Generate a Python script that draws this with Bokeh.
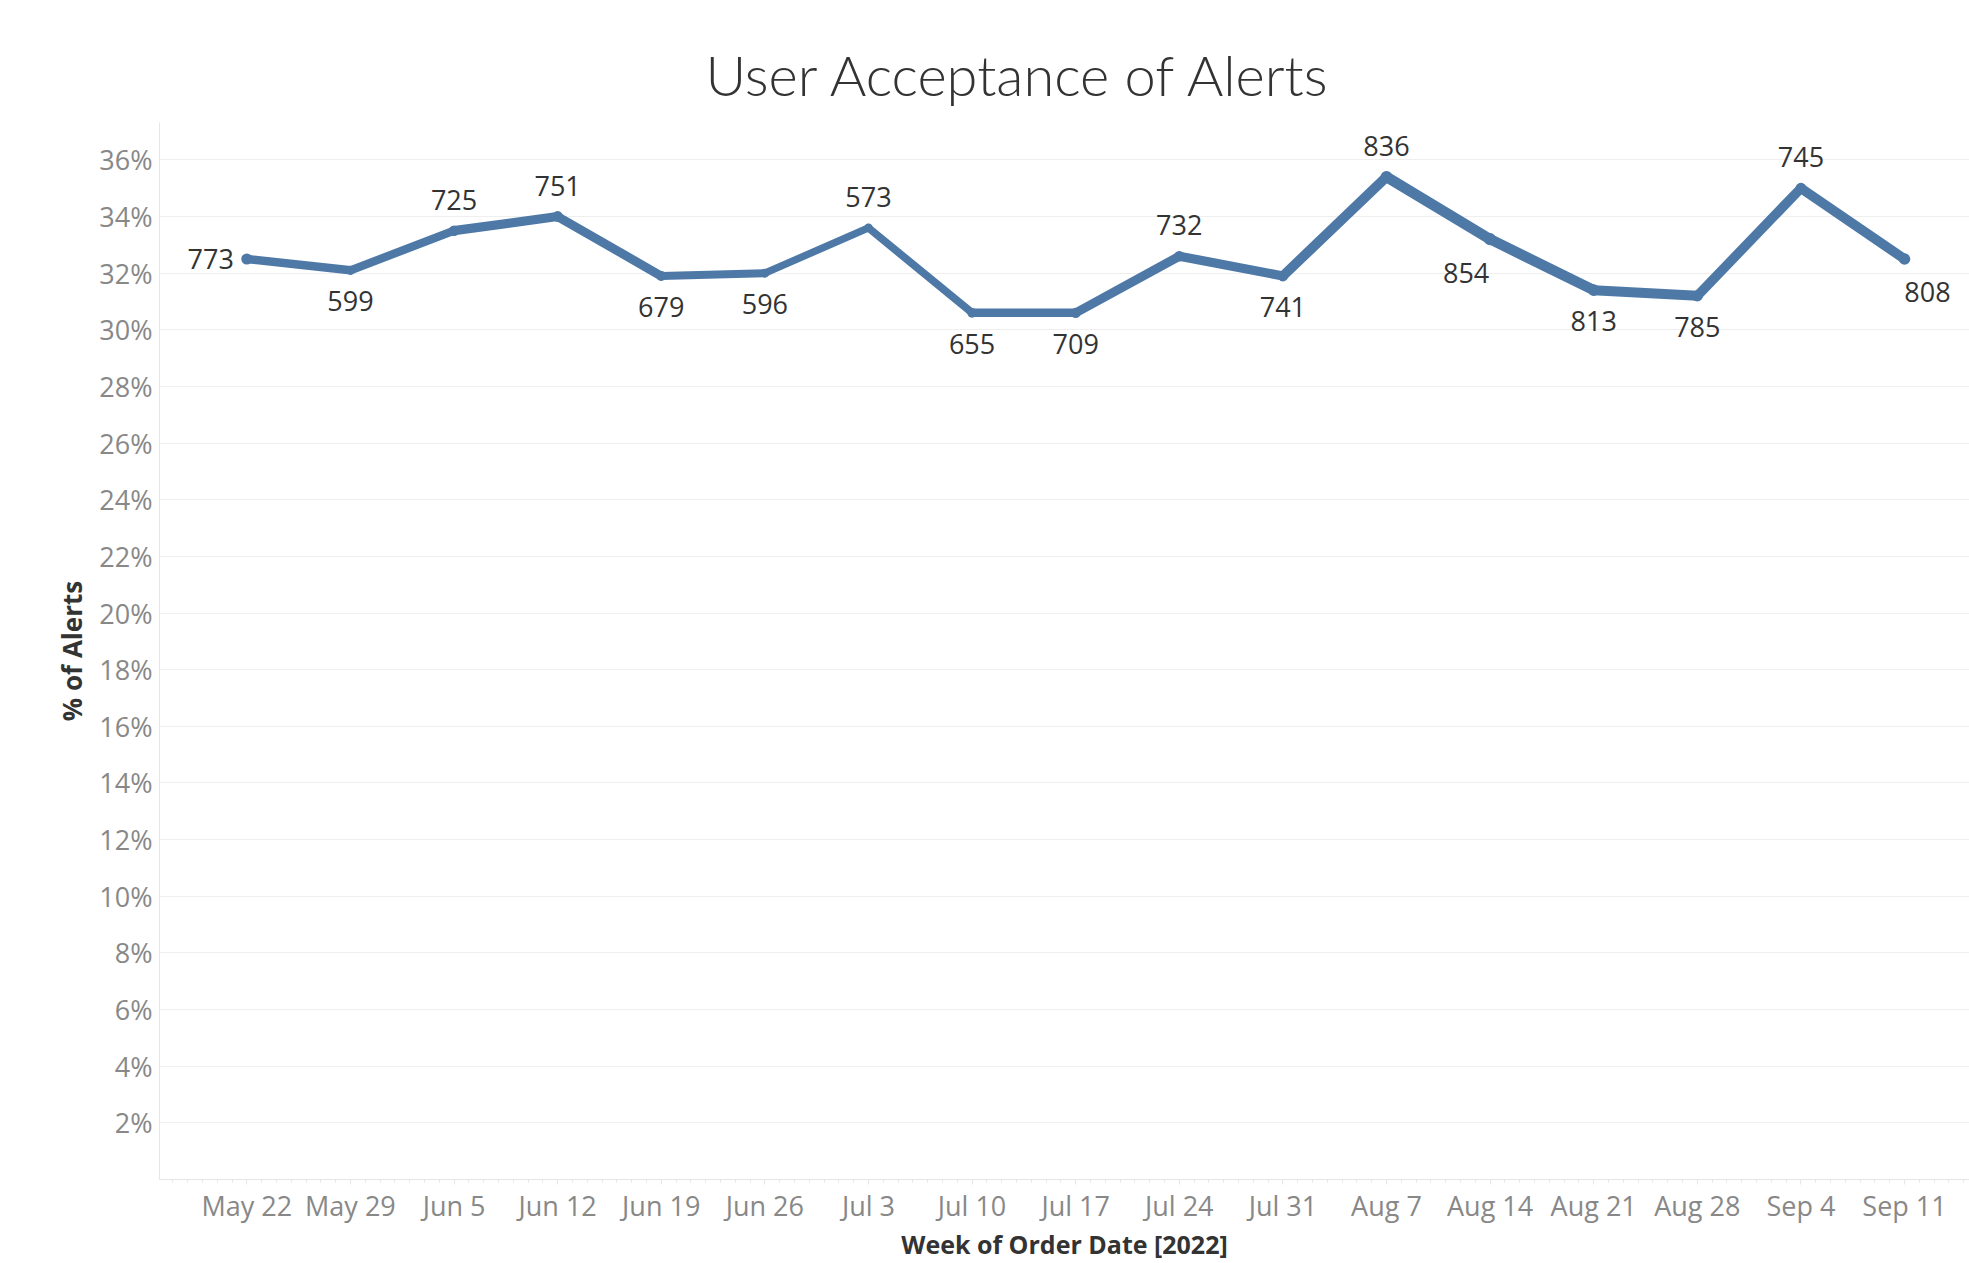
import pandas as pd
from bokeh.plotting import figure
from bokeh.models import ColumnDataSource, Range1d, FixedTicker, NumeralTickFormatter
from bokeh.core.properties import value
from bokeh.embed import file_html
from bokeh.resources import INLINE

# ---------------- data ----------------
week_start = ["2022-05-22", "2022-05-29", "2022-06-05", "2022-06-12", "2022-06-19",
              "2022-06-26", "2022-07-03", "2022-07-10", "2022-07-17", "2022-07-24",
              "2022-07-31", "2022-08-07", "2022-08-14", "2022-08-21", "2022-08-28",
              "2022-09-04", "2022-09-11"]
tick_labels = ["May 22", "May 29", "Jun 5", "Jun 12", "Jun 19", "Jun 26", "Jul 3",
               "Jul 10", "Jul 17", "Jul 24", "Jul 31", "Aug 7", "Aug 14", "Aug 21",
               "Aug 28", "Sep 4", "Sep 11"]
pct_accepted = [0.325, 0.321, 0.335, 0.340, 0.319, 0.320, 0.336, 0.306, 0.306,
                0.326, 0.319, 0.354, 0.332, 0.314, 0.312, 0.350, 0.325]
alert_counts = [773, 599, 725, 751, 679, 596, 573, 655, 709, 732, 741, 836, 854,
                813, 785, 745, 808]
y_tick_values = [0.02, 0.04, 0.06, 0.08, 0.10, 0.12, 0.14, 0.16, 0.18, 0.20,
                 0.22, 0.24, 0.26, 0.28, 0.30, 0.32, 0.34, 0.36]

# label placement (style, not data)
label_side = ["left", "below", "above", "above", "below", "below", "above", "below",
              "below", "above", "below", "above", "below-left", "below", "below",
              "above", "below-right"]

# ---------------- style ----------------
BLUE = "#4e79a7"
FONT = "Open Sans"
side_offsets = {
    "left": (-13, 0, "right"),
    "above": (0, -31, "center"),
    "below": (0, 31, "center"),
    "below-left": (-24, 34, "center"),
    "below-right": (23, 33, "center"),
}
WIDTH_PER_COUNT = 0.0125

dates = pd.to_datetime(week_start)
ms = [int(d.value // 10**6) for d in dates]
day_ms = 86400000

seg = ColumnDataSource(dict(
    x0=list(dates[:-1]), x1=list(dates[1:]),
    y0=pct_accepted[:-1], y1=pct_accepted[1:],
    w=[(a + b) / 2 * WIDTH_PER_COUNT for a, b in zip(alert_counts[:-1], alert_counts[1:])],
))
pts = ColumnDataSource(dict(
    x=list(dates), y=pct_accepted,
    size=[c * WIDTH_PER_COUNT + 1.5 for c in alert_counts],
    label=[str(c) for c in alert_counts],
    dx=[side_offsets[s][0] for s in label_side],
    dy=[side_offsets[s][1] for s in label_side],
    align=[side_offsets[s][2] for s in label_side],
))

x_start = dates[0] - pd.Timedelta(days=5.9)
x_end = dates[-1] + pd.Timedelta(days=4.39)

p = figure(width=1969, height=1263, output_backend="svg", toolbar_location=None,
           x_axis_type="datetime",
           x_range=Range1d(x_start, x_end), y_range=Range1d(0, 0.3732),
           min_border_left=159, min_border_right=0, min_border_top=122,
           min_border_bottom=70)
p.outline_line_color = None
p.background_fill_color = "white"

p.title.text = "User Acceptance of Alerts"
p.title.text_font = "Lato Light, Open Sans"
p.title.text_font_size = "56px"
p.title.text_font_style = "normal"
p.title.text_color = "#333333"
p.title.align = "left"
p.title.offset = 546
p.title.standoff = 30

# grid
p.xgrid.grid_line_color = None
p.ygrid.grid_line_color = "#efefef"
p.ygrid.grid_line_width = 1

# y axis
p.yaxis.ticker = FixedTicker(ticks=y_tick_values)
p.yaxis.formatter = NumeralTickFormatter(format="0%")
p.yaxis.axis_label = "% of Alerts"
p.yaxis.axis_label_text_font = FONT
p.yaxis.axis_label_text_font_size = "26px"
p.yaxis.axis_label_text_font_style = "bold"
p.yaxis.axis_label_text_color = "#333333"
p.yaxis.axis_label_standoff = 6
p.yaxis.major_label_text_font = FONT
p.yaxis.major_label_text_font_size = "27px"
p.yaxis.major_label_text_color = "#888888"
p.yaxis.major_label_standoff = 1
p.yaxis.major_tick_line_color = None
p.yaxis.minor_tick_line_color = None
p.yaxis.axis_line_color = "#e6e6e6"

# x axis
minor = list(range(ms[0] - 6 * day_ms, ms[-1] + 5 * day_ms, day_ms))
p.xaxis.ticker = FixedTicker(ticks=ms, minor_ticks=minor)
p.xaxis.major_label_overrides = dict(zip(ms, tick_labels))
p.xaxis.axis_label = "Week of Order Date [2022]"
p.xaxis.axis_label_text_font = FONT
p.xaxis.axis_label_text_font_size = "25px"
p.xaxis.axis_label_text_font_style = "bold"
p.xaxis.axis_label_text_color = "#333333"
p.xaxis.axis_label_standoff = 0
p.xaxis.major_label_text_font = FONT
p.xaxis.major_label_text_font_size = "27px"
p.xaxis.major_label_text_color = "#888888"
p.xaxis.major_label_standoff = 2
p.xaxis.axis_line_color = "#e6e6e6"
p.xaxis.major_tick_line_color = "#e6e6e6"
p.xaxis.minor_tick_line_color = "#e6e6e6"
p.xaxis.major_tick_in = 0
p.xaxis.major_tick_out = 5
p.xaxis.minor_tick_in = 0
p.xaxis.minor_tick_out = 3

# data
p.segment(x0="x0", y0="y0", x1="x1", y1="y1", line_width="w", line_color=BLUE,
          line_cap="round", source=seg)
p.scatter(x="x", y="y", size="size", fill_color=BLUE, line_color=None, source=pts)
p.text(x="x", y="y", text="label", x_offset="dx", y_offset="dy", text_align="align",
       text_baseline="middle", text_font=value(FONT), text_font_size="27px",
       text_color="#333333", source=pts)

open("out.html", "w").write(file_html(p, INLINE))
